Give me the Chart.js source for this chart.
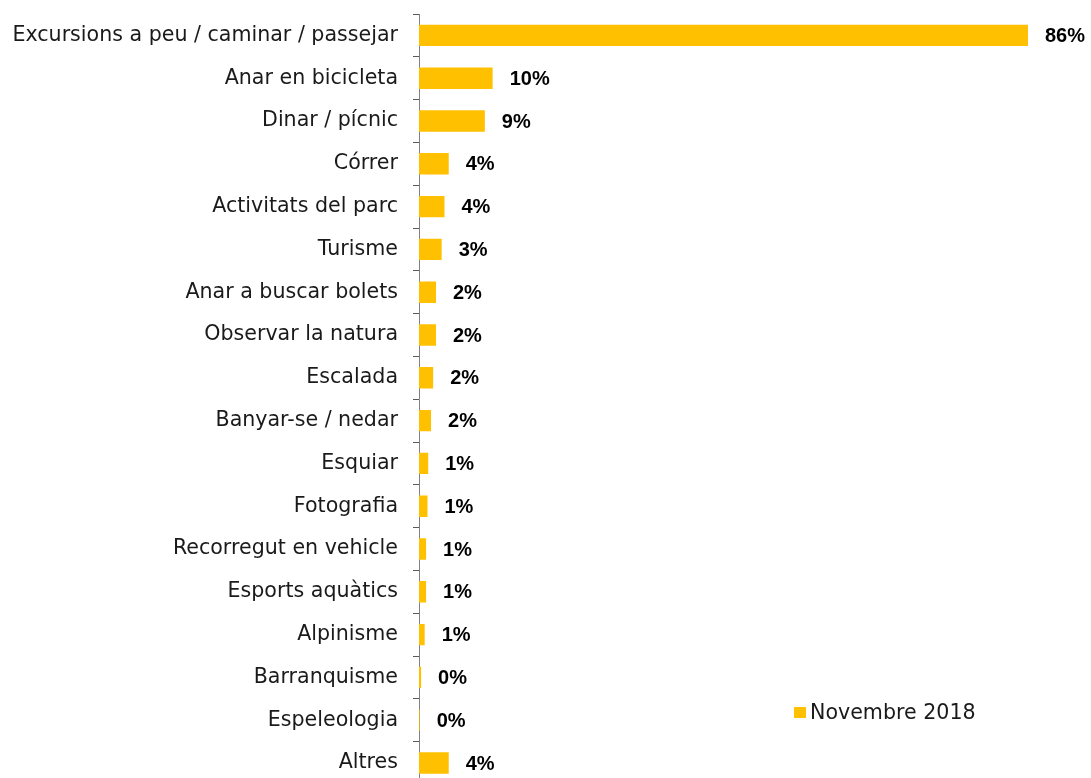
<!DOCTYPE html>
<html>
<head>
<meta charset="utf-8">
<script src="https://cdn.jsdelivr.net/npm/chart.js@4/dist/chart.umd.min.js"></script>
<style>
  html, body { margin: 0; padding: 0; background: #fff; overflow: hidden; }
  #wrap { position: relative; width: 1091px; height: 778px; overflow: hidden; }
  #legend { position: absolute; left: 794px; top: 700px; font: 20.6px "DejaVu Sans", sans-serif; color: #1a1a1a; white-space: nowrap; }
  #legend span.box { display: inline-block; width: 12px; height: 11px; background: #FFC000; margin-right: 4px; vertical-align: 1px; }
</style>
</head>
<body>
<div id="wrap">
  <canvas id="chart" width="1091" height="790"></canvas>
  <div id="legend"></div>
</div>
<script>
const categories = [
  "Excursions a peu / caminar / passejar",
  "Anar en bicicleta",
  "Dinar / pícnic",
  "Córrer",
  "Activitats del parc",
  "Turisme",
  "Anar a buscar bolets",
  "Observar la natura",
  "Escalada",
  "Banyar-se / nedar",
  "Esquiar",
  "Fotografia",
  "Recorregut en vehicle",
  "Esports aquàtics",
  "Alpinisme",
  "Barranquisme",
  "Espeleologia",
  "Altres"
];
const values = [86.0, 10.4, 9.3, 4.2, 3.6, 3.2, 2.4, 2.4, 2.0, 1.7, 1.3, 1.2, 1.0, 1.0, 0.8, 0.3, 0.1, 4.2];
const seriesLabel = "Novembre 2018";
const barColor = "#FFC000";

document.getElementById("legend").innerHTML = '<span class="box"></span>' + seriesLabel;

// value labels at the end of each bar
const valueLabels = {
  id: "valueLabels",
  afterDatasetsDraw(chart) {
    const ctx = chart.ctx;
    const meta = chart.getDatasetMeta(0);
    ctx.save();
    ctx.font = "bold 20px 'Liberation Sans', sans-serif";
    ctx.fillStyle = "#000";
    ctx.textAlign = "left";
    ctx.textBaseline = "middle";
    meta.data.forEach((bar, i) => {
      ctx.fillText(Math.round(values[i]) + "%", bar.x + 17, bar.y + 1);
    });
    ctx.restore();
  }
};

new Chart(document.getElementById("chart"), {
  type: "bar",
  data: {
    labels: categories,
    datasets: [{
      label: seriesLabel,
      data: values,
      backgroundColor: barColor,
      borderWidth: 0,
      categoryPercentage: 1.0,
      barPercentage: 0.5
    }]
  },
  options: {
    indexAxis: "y",
    responsive: false,
    animation: false,
    layout: { padding: { top: 14, bottom: 5.6, left: 0, right: 0 } },
    plugins: {
      legend: { display: false },
      tooltip: { enabled: false }
    },
    scales: {
      x: {
        display: false,
        min: 0,
        max: 94.9
      },
      y: {
        afterFit(scale) {
          scale.width = 419;
          scale.paddingTop = 0;
          scale.paddingBottom = 0;
        },
        border: { display: true, color: "#808080", width: 1 },
        grid: {
          offset: true,
          drawOnChartArea: false,
          drawTicks: true,
          tickLength: 6,
          color: "#595959"
        },
        ticks: {
          padding: 15,
          color: "#1a1a1a",
          font: { family: "'DejaVu Sans', sans-serif", size: 20.6 }
        }
      }
    }
  },
  plugins: [valueLabels]
});
</script>
</body>
</html>
